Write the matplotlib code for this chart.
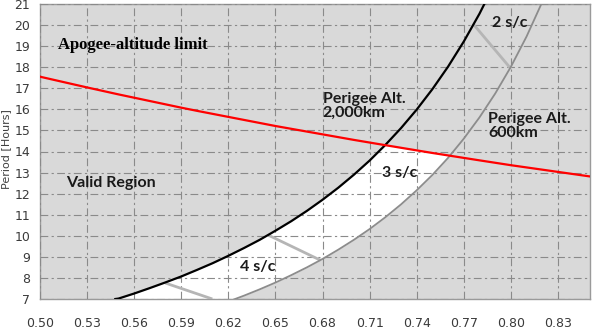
import numpy as np
import matplotlib
matplotlib.use("Agg")
import matplotlib.pyplot as plt

# Eccentricity (x) vs Period in hours (y)
ecc_2000 = [0.548, 0.55, 0.56, 0.57, 0.58, 0.59, 0.60, 0.61, 0.62, 0.63, 0.64, 0.65,
            0.66, 0.67, 0.68, 0.69, 0.70, 0.71, 0.72, 0.73, 0.74, 0.75, 0.76, 0.77,
            0.78, 0.79]
per_2000 = [7.00, 7.02, 7.26, 7.52, 7.79, 8.07, 8.38, 8.70, 9.05, 9.42, 9.81, 10.24,
            10.69, 11.18, 11.71, 12.28, 12.90, 13.57, 14.31, 15.11, 15.99, 16.96, 18.03,
            19.22, 20.54, 22.03]

ecc_600 = [0.62, 0.63, 0.64, 0.65, 0.66, 0.67, 0.68, 0.69, 0.70, 0.71, 0.72, 0.73,
           0.74, 0.75, 0.76, 0.77, 0.78, 0.79, 0.80, 0.81, 0.82]
per_600 = [6.88, 7.16, 7.46, 7.78, 8.13, 8.50, 8.90, 9.34, 9.81, 10.32, 10.88, 11.49,
           12.16, 12.89, 13.70, 14.61, 15.62, 16.75, 18.02, 19.46, 21.10]

ecc_apogee = [0.50, 0.53, 0.55, 0.59, 0.60, 0.65, 0.70, 0.72, 0.75, 0.78, 0.80, 0.85]
per_apogee = [17.55, 17.04, 16.71, 16.08, 15.93, 15.21, 14.55, 14.30, 13.93, 13.58, 13.35, 12.82]

# spacecraft-count separator lines (start point, end point)
sc_lines = [
    [(0.776, 20.05), (0.800, 17.93)],
    [(0.6455, 10.03), (0.6787, 8.84)],
    [(0.5798, 7.76), (0.6098, 7.00)],
]

xticks = [0.50, 0.53, 0.56, 0.59, 0.62, 0.65, 0.68, 0.71, 0.74, 0.77, 0.80, 0.83]
xticklabels = ["0.50", "0.53", "0.56", "0.59", "0.62", "0.65", "0.68", "0.71",
               "0.74", "0.77", "0.80", "0.83"]
yticks = list(range(7, 22))

fig = plt.figure(figsize=(5.96, 3.36), dpi=100)
ax = fig.add_axes([40/596, 1-299/336, 550/596, 295/336])
ax.set_facecolor("#d9d9d9")
ax.set_xlim(0.50, 0.8504)
ax.set_ylim(7, 21)

# White valid region: between curves, below apogee line, above bottom
xg = np.linspace(0.548, 0.77, 600)
upper = np.minimum(np.interp(xg, ecc_2000, per_2000), np.interp(xg, ecc_apogee, per_apogee))
lower = np.maximum(np.interp(xg, ecc_600, per_600), 7.0)
ax.fill_between(xg, lower, upper, where=upper >= lower, color="white", lw=0, zorder=1)

ax.set_xticks(xticks)
ax.set_xticklabels(xticklabels)
ax.set_yticks(yticks)
ax.grid(True, color="#8a8a8a", lw=0.8, linestyle=(0, (7, 3, 2, 3)), zorder=2)
ax.set_axisbelow(False)

for (x0, y0), (x1, y1) in sc_lines:
    ax.plot([x0, x1], [y0, y1], color="#b5b5b5", lw=2.0, zorder=3, solid_capstyle="butt")

ax.plot(ecc_600, per_600, color="#8c8c8c", lw=1.3, zorder=4)
ax.plot(ecc_2000, per_2000, color="black", lw=1.6, zorder=5)
ax.plot(ecc_apogee, per_apogee, color="#ff0000", lw=1.6, zorder=5)

for s in ax.spines.values():
    s.set_color("#9a9a9a")
    s.set_linewidth(1.0)
ax.tick_params(length=0)
ax.tick_params(axis="x", pad=13, labelsize=9, labelcolor="#3a3a3a")
ax.tick_params(axis="y", pad=7, labelsize=9, labelcolor="#3a3a3a")

fig.text(0.011, 0.555, "Period [Hours]", rotation=90, ha="center", va="center",
         fontsize=8, color="#404040")

sans = ["Lato", "DejaVu Sans"]
fs = 11.5
ax.text(0.5115, 19.06, "Apogee-altitude limit", family=["Liberation Serif", "DejaVu Serif"],
        fontweight="bold", fontsize=12, ha="left", va="center", zorder=6)
ax.text(0.5166, 12.49, "Valid Region", family=sans, fontweight="bold", fontsize=fs,
        color="#1a1a1a", ha="left", va="center", zorder=6)
ax.text(0.680, 16.18, "Perigee Alt.\n2,000km", family=sans, fontweight="bold", fontsize=fs,
        color="#1a1a1a", ha="left", va="center", linespacing=1.0, zorder=6)
ax.text(0.7855, 15.21, "Perigee Alt.\n600km", family=sans, fontweight="bold", fontsize=fs,
        color="#1a1a1a", ha="left", va="center", linespacing=1.05, zorder=6)
ax.text(0.788, 20.10, "2 s/c", family=sans, fontweight="bold", fontsize=fs,
        color="#1a1a1a", ha="left", va="center", zorder=6)
ax.text(0.718, 13.0, "3 s/c", family=sans, fontweight="bold", fontsize=fs,
        color="#1a1a1a", ha="left", va="center", zorder=6)
ax.text(0.6274, 8.51, "4 s/c", family=sans, fontweight="bold", fontsize=fs,
        color="#1a1a1a", ha="left", va="center", zorder=6)

fig.savefig("out.png", dpi=100)
